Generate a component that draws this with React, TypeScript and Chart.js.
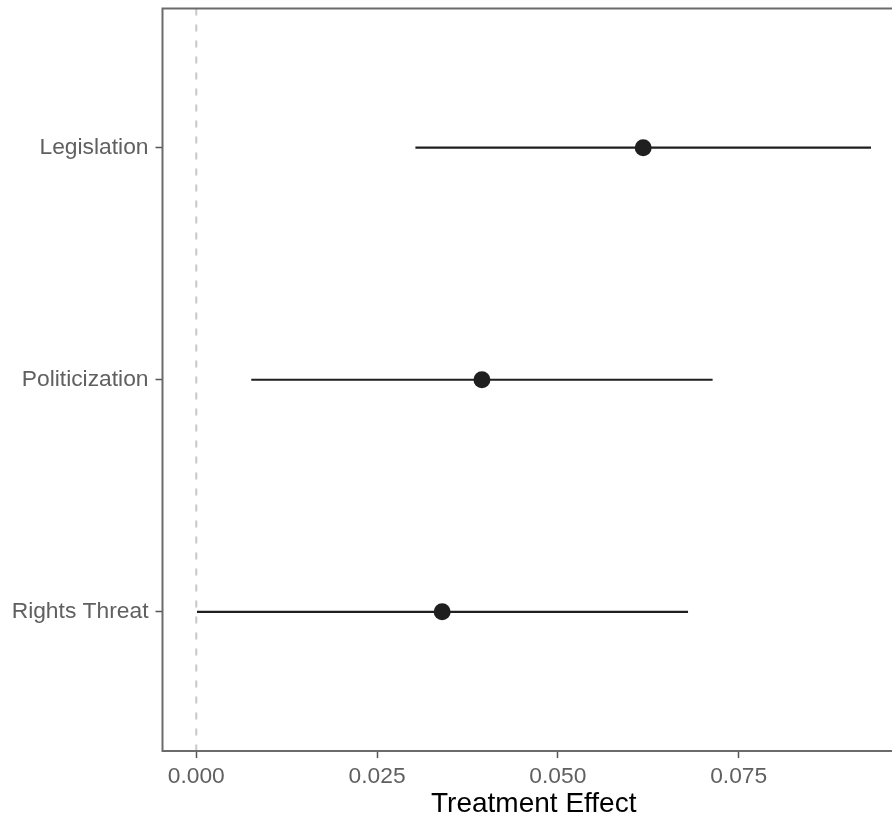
import React, { useEffect, useRef } from 'react';
import { Chart, registerables } from 'chart.js';

Chart.register(...registerables);

const categories = ['Legislation', 'Politicization', 'Rights Threat'];
const estimates = [0.0618, 0.0395, 0.034];
const lower = [0.0303, 0.0076, 0.0001];
const upper = [0.0933, 0.0714, 0.068];
const xTicks = [0, 0.025, 0.05, 0.075];
const xMin = -0.00467;
const xMax = 0.098;
const xTitle = 'Treatment Effect';

const FAMILY = '"Liberation Sans", Arial, Helvetica, sans-serif';

export default function App() {
  const ref = useRef<HTMLCanvasElement>(null);

  useEffect(() => {
    const canvas = ref.current;
    if (!canvas) return;

    const panelBorder = {
      id: 'panelBorder',
      afterDatasetsDraw(chart: any) {
        const { ctx, chartArea: a } = chart;
        ctx.save();
        ctx.strokeStyle = '#6b6b6b';
        ctx.lineWidth = 2;
        ctx.strokeRect(a.left, a.top, a.right - a.left, a.bottom - a.top);
        ctx.restore();
      },
    };

    const datasets: any[] = [
      {
        data: categories.map((_, i) => ({ x: estimates[i], y: i + 1 })),
        pointRadius: 8.5,
        pointHoverRadius: 8.5,
        backgroundColor: '#1f1f1f',
        borderWidth: 0,
        showLine: false,
      },
      ...categories.map((_, i) => ({
        data: [
          { x: lower[i], y: i + 1 },
          { x: upper[i], y: i + 1 },
        ],
        showLine: true,
        borderColor: '#1f1f1f',
        borderWidth: 2.2,
        pointRadius: 0,
        pointHoverRadius: 0,
        fill: false,
      })),
      {
        data: [
          { x: 0, y: 0.4 },
          { x: 0, y: 3.6 },
        ],
        showLine: true,
        borderColor: '#c8c8c8',
        borderWidth: 2,
        borderDash: [7, 9],
        pointRadius: 0,
        pointHoverRadius: 0,
        fill: false,
      },
    ];

    const chart = new Chart(canvas, {
      type: 'scatter',
      data: { datasets },
      options: {
        responsive: false,
        animation: false,
        events: [],
        layout: { padding: { top: 8, right: 15, left: 0, bottom: 0 } },
        plugins: {
          legend: { display: false },
          tooltip: { enabled: false },
        },
        scales: {
          x: {
            type: 'linear',
            min: xMin,
            max: xMax,
            afterBuildTicks: (s: any) => {
              s.ticks = xTicks.map((v) => ({ value: v }));
            },
            afterFit: (s: any) => {
              s.height = 65;
              s.paddingLeft = 0;
              s.paddingRight = 0;
            },
            ticks: {
              callback: (v: any) => Number(v).toFixed(3),
              font: { size: 22.8, family: FAMILY },
              color: '#606060',
              padding: 5,
              maxRotation: 0,
              autoSkip: false,
            },
            grid: {
              drawOnChartArea: false,
              drawTicks: true,
              tickLength: 7,
              tickColor: '#555555',
              tickWidth: 1.5,
            },
            border: { display: false },
            title: {
              display: true,
              text: xTitle,
              color: '#000000',
              font: { size: 28, family: FAMILY, lineHeight: 0.86 },
              padding: { top: 0, bottom: 0 },
            },
          },
          y: {
            type: 'linear',
            reverse: true,
            min: 0.4,
            max: 3.6,
            afterBuildTicks: (s: any) => {
              s.ticks = categories.map((_, i) => ({ value: i + 1 }));
            },
            afterFit: (s: any) => {
              s.width = 162.5;
              s.paddingTop = 0;
              s.paddingBottom = 0;
            },
            ticks: {
              callback: (v: any) => categories[Math.round(Number(v)) - 1] ?? '',
              font: { size: 22.8, family: FAMILY },
              color: '#606060',
              padding: 7,
              autoSkip: false,
            },
            grid: {
              drawOnChartArea: false,
              drawTicks: true,
              tickLength: 7,
              tickColor: '#555555',
              tickWidth: 1.5,
            },
            border: { display: false },
          },
        },
      },
      plugins: [panelBorder],
    } as any);

    return () => {
      chart.destroy();
    };
  }, []);

  return (
    <div
      style={{
        position: 'fixed',
        left: 0,
        top: 0,
        width: 892,
        height: 816,
        overflow: 'hidden',
        background: '#ffffff',
      }}
    >
      <canvas ref={ref} width={920} height={816} style={{ display: 'block' }} />
    </div>
  );
}
